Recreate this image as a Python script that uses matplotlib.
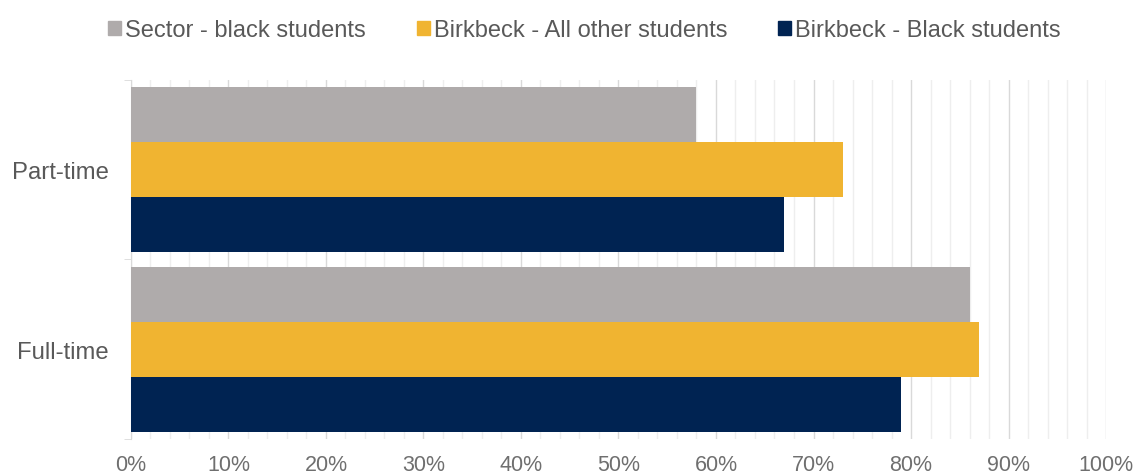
import matplotlib
matplotlib.use("Agg")
import matplotlib.pyplot as plt
from matplotlib.patches import Patch
import numpy as np

# Continuation rates by mode of study (%)
modes = ["Part-time", "Full-time"]
sector_black = [58, 86]
birkbeck_other = [73, 87]
birkbeck_black = [67, 79]

series_names = ["Sector - black students", "Birkbeck - All other students", "Birkbeck - Black students"]
colours = ["#AFABAB", "#F0B431", "#002352"]

plt.rcParams["font.family"] = ["Liberation Sans", "DejaVu Sans"]

fig = plt.figure(figsize=(11.36, 4.77), dpi=100)
ax = fig.add_axes([0.1153, 0.0776, 0.8583, 0.7526])

y = np.arange(len(modes))[::-1]  # Part-time on top
h = 0.307
for vals, off, col in zip([sector_black, birkbeck_other, birkbeck_black], [h, 0, -h], colours):
    ax.barh(y + off, vals, height=h, color=col, zorder=3)

ax.set_xlim(0, 100)
ax.set_ylim(-0.5, 1.5)

# gridlines: light every 2%, a touch darker every 10%
ax.set_xticks(np.arange(0, 101, 10))
ax.set_xticks(np.arange(0, 101, 2), minor=True)
ax.set_xticklabels([f"{v}%" for v in range(0, 101, 10)])
ax.grid(axis="x", which="minor", color="#EEEEEE", lw=1, zorder=0)
ax.grid(axis="x", which="major", color="#D9D9D9", lw=1, zorder=1)

ax.set_yticks(y)
ax.set_yticklabels(modes)
ax.set_yticks([-0.5, 0.5, 1.5], minor=True)

ax.tick_params(axis="x", which="both", length=0, pad=11, labelsize=15.5, labelcolor="#6F6F6F")
ax.tick_params(axis="y", which="major", length=0, pad=16, labelsize=17.2, labelcolor="#595959")
ax.tick_params(axis="y", which="minor", length=5, color="#D9D9D9")

for side in ["top", "right", "bottom"]:
    ax.spines[side].set_visible(False)
ax.spines["left"].set_color("#D9D9D9")

handles = [Patch(color=c) for c in colours]
fig.legend(handles, series_names, loc="center", bbox_to_anchor=(0.5145, 0.935), ncol=3,
           frameon=False, fontsize=17, labelcolor="#595959",
           handlelength=0.55, handleheight=0.55, handletextpad=0.17, columnspacing=2.15)

fig.savefig("out.png", dpi=100)
